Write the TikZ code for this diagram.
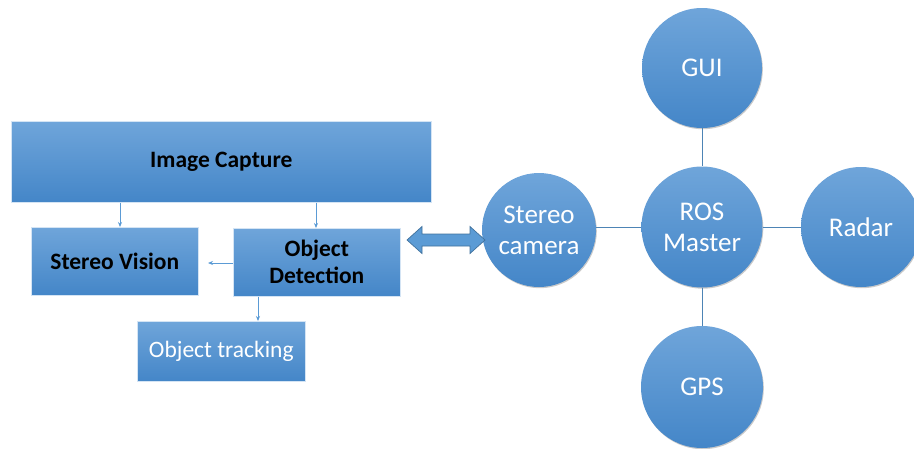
\documentclass[tikz,border=0pt]{standalone}
\usepackage{fontspec}
\setmainfont{Carlito}
\usetikzlibrary{shadows,arrows.meta,calc}
\definecolor{btop}{HTML}{6FA5DA}
\definecolor{bbot}{HTML}{4486C8}
\definecolor{lineblue}{HTML}{5B9BD5}
\definecolor{arrowedge}{HTML}{41719C}
\tikzset{
  px/.style={x=1pt,y=-1pt},
  boxnode/.style={rectangle, draw=white!70!btop, line width=0.6pt, top color=btop, bottom color=bbot, inner sep=0pt, anchor=north west},
  boxtext/.style={font=\fontsize{23.5}{27}\selectfont\bfseries, text=black, align=center},
  circnode/.style={circle, top color=btop, bottom color=bbot, draw=none, inner sep=0pt, text=white, align=center,
    font=\fontsize{27}{31}\selectfont,
    drop shadow={shadow xshift=0.8pt, shadow yshift=-1.2pt, opacity=0.35, fill=black!60}},
  thinarrow/.style={draw=lineblue, line width=0.8pt, -{Stealth[length=5pt,width=4pt]}},
  conn/.style={draw=lineblue!85!black, line width=0.8pt}
}
\begin{document}
\begin{tikzpicture}[px]
\useasboundingbox (0,0) rectangle (914,448);
% boxes
\node[boxnode, minimum width=420pt, minimum height=81pt] (cap) at (11,121) {};
\node[boxtext] at (cap.center) {Image Capture};
\node[boxnode, minimum width=167pt, minimum height=68pt] (sv) at (31,227) {};
\node[boxtext] at (sv.center) {Stereo Vision};
\node[boxnode, minimum width=167pt, minimum height=68pt] (od) at (233,228) {};
\node[boxtext] at (od.center) {Object\\Detection};
\node[boxnode, minimum width=168pt, minimum height=60pt] (ot) at (137,321) {};
\node[font=\fontsize{23.5}{27}\selectfont, text=white] at (ot.center) {Object tracking};
% arrows
\coordinate (svin) at (208,263);
\draw[thinarrow] (cap.south -| 120,0) -- (sv.north -| 120,0);
\draw[thinarrow] (cap.south -| 316,0) -- (od.north -| 316,0);
\draw[thinarrow] (od.west |- svin) -- (svin);
\draw[thinarrow] (od.south -| 258,0) -- (ot.north -| 258,0);
% circles
\node[circnode, minimum size=114pt] (sc) at (539,230) {Stereo\\camera};
\node[circnode, minimum size=121pt] (ros) at (702,227) {ROS\\Master};
\node[circnode, minimum size=120pt] (gui) at (702,68) {GUI};
\node[circnode, minimum size=120pt] (radar) at (861,227) {Radar};
\node[circnode, minimum size=122pt] (gps) at (702,387) {GPS};
% connectors
\draw[conn] (sc.east |- 0,227) -- (ros.west);
\draw[conn] (ros.east) -- (radar.west);
\draw[conn] (gui.south) -- (ros.north);
\draw[conn] (ros.south) -- (gps.north);
% block double arrow
\coordinate (bl) at (407,240);
\coordinate (br) at (485,240);
\draw[fill=lineblue, draw=arrowedge, line width=0.7pt, line join=miter]
  (bl) -- ++(15,-13.5) -- ++(0,7.5) -- ($(br)+(-15,-6)$) -- ++(0,-7.5) -- (br)
  -- ++(-15,13.5) -- ++(0,-7.5) -- ($(bl)+(15,6)$) -- ++(0,7.5) -- cycle;
\end{tikzpicture}
\end{document}
